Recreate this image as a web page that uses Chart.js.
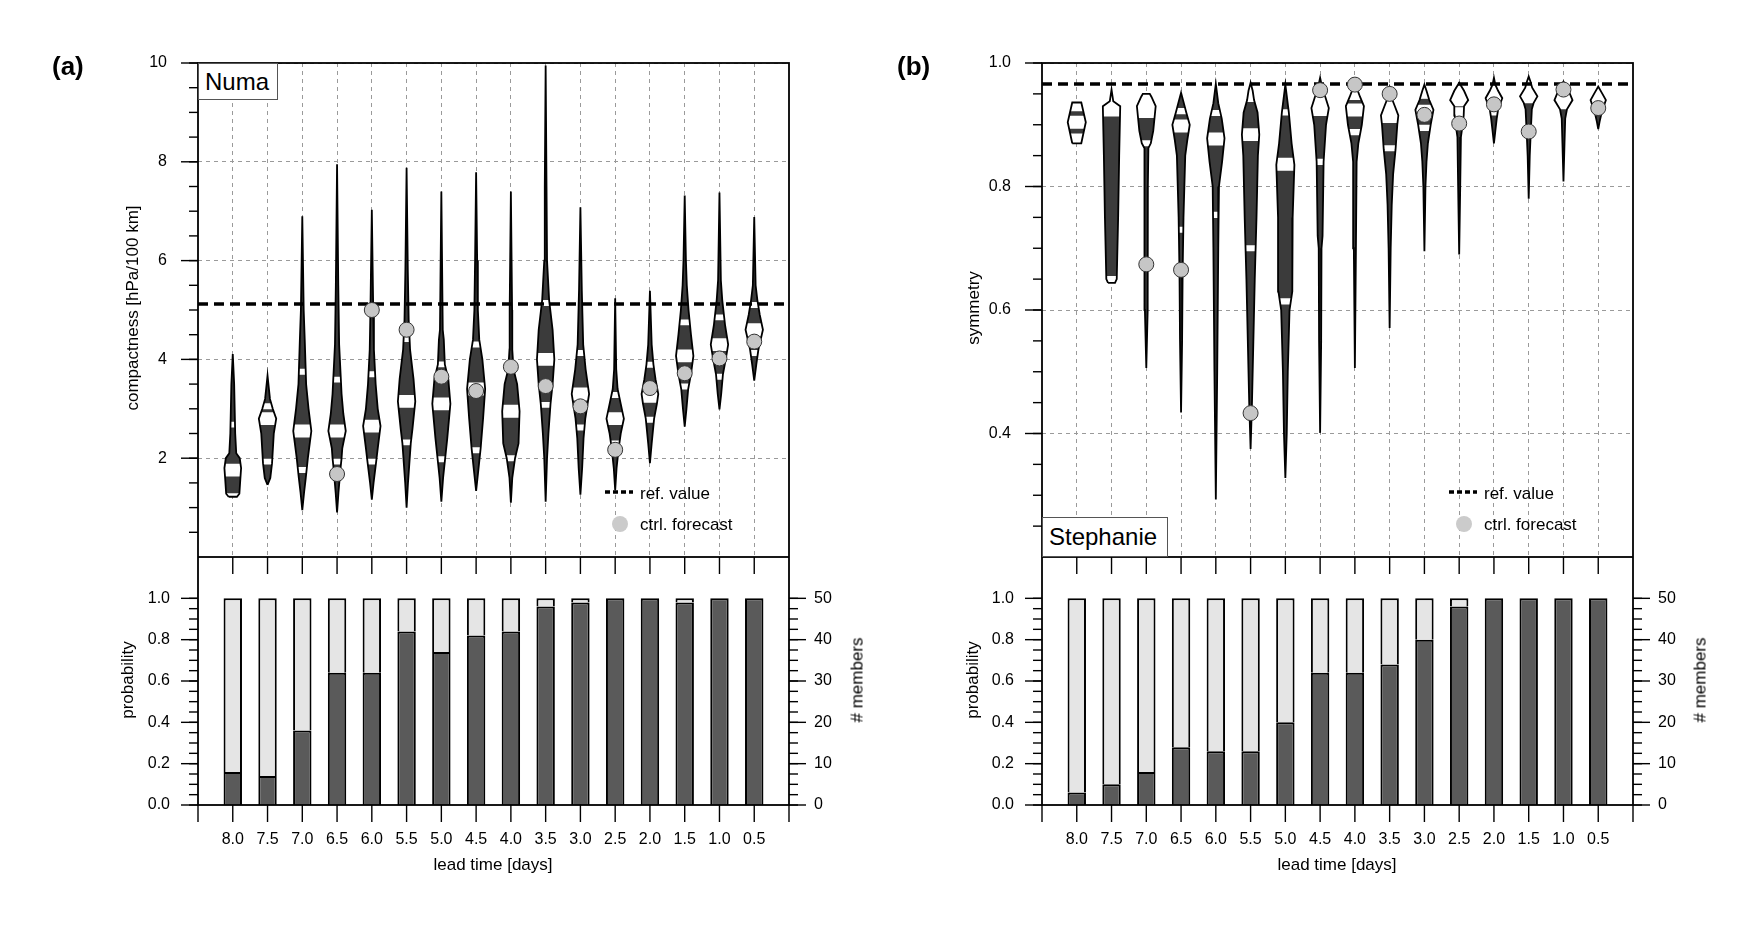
<!DOCTYPE html>
<html>
<head>
<meta charset="utf-8">
<script src="https://cdn.jsdelivr.net/npm/chart.js@4.4.1/dist/chart.umd.min.js"></script>
<style>
  body { margin: 0; width: 1757px; height: 928px; position: relative; overflow: hidden; background: #fff;
         font-family: "Liberation Sans", Arial, Helvetica, sans-serif; color: #000; }
  canvas { position: absolute; }
  .t { position: absolute; white-space: nowrap; line-height: 1; }
  .ctr { transform: translate(-50%, -50%); }
  .lft { transform: translateY(-50%); }
  .rot { transform: translate(-50%, -50%) rotate(-90deg); }
  .tag { position: absolute; background: #fff; border: 1px solid #555; box-sizing: border-box;
         font-size: 24px; display: flex; align-items: center; padding-left: 6px; }
  .dot { position: absolute; width: 16px; height: 16px; border-radius: 50%; background: #cbcbcb; }
</style>
</head>
<body>
<canvas id="numaTop" width="880" height="557" style="left:0;top:0"></canvas>
<canvas id="numaBar" width="880" height="371" style="left:0;top:557px"></canvas>
<canvas id="stephTop" width="880" height="557" style="left:844px;top:0"></canvas>
<canvas id="stephBar" width="880" height="371" style="left:844px;top:557px"></canvas>

<div class="t lft" style="left:52px;top:66px;font-size:26px;font-weight:bold">(a)</div>
<div class="t lft" style="left:897px;top:66px;font-size:26px;font-weight:bold">(b)</div>
<div class="tag" style="left:198px;top:63px;width:80px;height:37px">Numa</div>
<div class="tag" style="left:1042px;top:517px;width:126px;height:40px">Stephanie</div>

<div class="t rot" style="left:132px;top:308px;font-size:17px">compactness [hPa/100 km]</div>
<div class="t rot" style="left:973px;top:308px;font-size:17px">symmetry</div>
<div class="t rot" style="left:127px;top:680px;font-size:17px">probability</div>
<div class="t rot" style="left:972px;top:680px;font-size:17px">probability</div>
<div class="t rot" style="left:857px;top:680px;font-size:17px"># members</div>
<div class="t rot" style="left:1700px;top:680px;font-size:17px"># members</div>
<div class="t ctr" style="left:493px;top:864px;font-size:17px">lead time [days]</div>
<div class="t ctr" style="left:1337px;top:864px;font-size:17px">lead time [days]</div>

<svg style="position:absolute;left:605px;top:488px" width="30" height="8"><line x1="0" y1="4" x2="28" y2="4" stroke="#000" stroke-width="3.5" stroke-dasharray="5,3"/></svg>
<div class="t lft" style="left:640px;top:493px;font-size:17px">ref. value</div>
<div class="dot" style="left:612px;top:516px"></div>
<div class="t lft" style="left:640px;top:524px;font-size:17px">ctrl. forecast</div>
<svg style="position:absolute;left:1449px;top:488px" width="30" height="8"><line x1="0" y1="4" x2="28" y2="4" stroke="#000" stroke-width="3.5" stroke-dasharray="5,3"/></svg>
<div class="t lft" style="left:1484px;top:493px;font-size:17px">ref. value</div>
<div class="dot" style="left:1456px;top:516px"></div>
<div class="t lft" style="left:1484px;top:524px;font-size:17px">ctrl. forecast</div>

<script>
// ---------- data ----------
const leadTimes = ['8.0', '7.5', '7.0', '6.5', '6.0', '5.5', '5.0', '4.5', '4.0', '3.5', '3.0', '2.5', '2.0', '1.5', '1.0', '0.5'];

// (a) Numa, compactness [hPa/100 km]
const numaRef = 5.12;
const numaMedian = [1.76, 2.8, 2.55, 2.55, 2.65, 3.15, 3.1, 3.4, 2.95, 4.0, 3.3, 2.8, 3.25, 4.07, 4.3, 4.6];
const numaQ1 = [null, 1.93, 1.76, 1.93, 1.93, 2.32, 1.98, 2.16, 2.0, 3.08, 2.62, 2.3, 2.78, 3.45, 3.65, 4.13];
const numaQ3 = [2.68, 3.05, 3.75, 3.59, 3.7, 4.41, 3.9, 4.3, 3.9, 5.14, 4.13, 3.28, 3.89, 4.75, 4.85, 5.1];
const numaShade = [[1.29, 4.11], null, null, null, null, null, null, null, null, null, null, null, null, null, null, null];
const numaCtrl = [null, null, null, 1.68, 5.0, 4.6, 3.65, 3.36, 3.85, 3.46, 3.05, 2.17, 3.42, 3.72, 4.02, 4.36];
// relative density profiles, [value, density] from bottom to top
const numaDensity = [
  [[1.22, 0.48], [1.28, 0.76], [1.6, 0.88], [1.8, 0.96], [2.0, 0.8], [2.1, 0.4], [2.5, 0.28], [3.5, 0.16], [4.11, 0]],
  [[1.46, 0], [1.6, 0.32], [1.9, 0.52], [2.5, 0.72], [2.8, 1.0], [3.0, 0.6], [3.2, 0.28], [3.67, 0]],
  [[0.95, 0], [1.3, 0.2], [1.6, 0.4], [2.0, 0.64], [2.55, 1.04], [3.0, 0.72], [3.5, 0.44], [4.4, 0.28], [5.0, 0.16], [6.9, 0]],
  [[0.9, 0], [1.3, 0.16], [1.8, 0.4], [2.0, 0.52], [2.2, 0.6], [2.55, 1.0], [2.9, 0.72], [3.3, 0.52], [4.3, 0.24], [5.5, 0.14], [7.95, 0]],
  [[1.16, 0], [1.5, 0.2], [1.9, 0.48], [2.2, 0.68], [2.65, 1.0], [3.0, 0.68], [3.5, 0.44], [4.2, 0.24], [5.0, 0.16], [7.03, 0]],
  [[1.0, 0], [1.5, 0.16], [1.9, 0.32], [2.3, 0.48], [2.6, 0.68], [3.15, 1.0], [3.6, 0.8], [4.2, 0.4], [4.8, 0.24], [5.8, 0.14], [7.88, 0]],
  [[1.12, 0], [1.6, 0.2], [2.0, 0.44], [2.4, 0.68], [3.1, 1.04], [3.6, 0.8], [3.9, 0.4], [4.4, 0.28], [4.6, 0.16], [7.4, 0]],
  [[1.34, 0], [1.8, 0.28], [2.2, 0.52], [2.8, 0.8], [3.4, 1.04], [4.0, 0.72], [4.4, 0.36], [5.0, 0.2], [6.0, 0.12], [7.79, 0]],
  [[1.1, 0], [1.6, 0.16], [2.0, 0.48], [2.3, 0.88], [2.95, 1.0], [3.5, 0.72], [3.8, 0.3], [4.2, 0.16], [5.0, 0.14], [7.4, 0]],
  [[1.12, 0], [2.0, 0.16], [2.5, 0.32], [3.1, 0.56], [3.5, 0.8], [4.0, 1.0], [4.6, 0.8], [5.2, 0.4], [6.0, 0.16], [7.5, 0.1], [9.95, 0]],
  [[1.26, 0], [1.8, 0.2], [2.4, 0.36], [2.8, 0.56], [3.3, 1.0], [3.8, 0.6], [4.3, 0.32], [5.4, 0.16], [7.08, 0]],
  [[1.35, 0], [1.8, 0.16], [2.2, 0.4], [2.5, 0.64], [2.8, 1.0], [3.1, 0.64], [3.4, 0.28], [3.8, 0.12], [5.24, 0]],
  [[1.9, 0], [2.3, 0.2], [2.8, 0.48], [3.1, 0.8], [3.3, 0.96], [3.6, 0.64], [3.9, 0.4], [4.3, 0.2], [5.39, 0]],
  [[2.64, 0], [3.0, 0.2], [3.4, 0.4], [3.7, 0.72], [4.07, 1.0], [4.5, 0.72], [5.0, 0.44], [5.5, 0.24], [6.0, 0.14], [7.32, 0]],
  [[2.99, 0], [3.3, 0.2], [3.7, 0.4], [4.0, 0.72], [4.3, 1.0], [4.7, 0.64], [5.2, 0.32], [5.6, 0.16], [7.38, 0]],
  [[3.57, 0], [3.9, 0.24], [4.2, 0.48], [4.6, 1.0], [4.9, 0.64], [5.2, 0.36], [5.5, 0.16], [6.88, 0]]
];
const numaProb = [0.16, 0.14, 0.36, 0.64, 0.64, 0.84, 0.74, 0.82, 0.84, 0.96, 0.98, 1.0, 1.0, 0.98, 1.0, 1.0];

// (b) Stephanie, symmetry
const stephRef = 0.966;
const stephMedian = [0.904, 0.924, 0.925, 0.898, 0.877, 0.884, 0.836, 0.927, 0.924, 0.915, 0.922, 0.918, 0.935, 0.946, 0.942, 0.94];
const stephQ1 = [null, null, 0.87, 0.73, 0.754, 0.70, 0.614, 0.84, 0.888, 0.862, 0.895, null, null, null, null, null];
const stephQ3 = [null, 0.942, null, 0.922, 0.919, null, 0.92, null, null, null, 0.948, null, null, null, null, null];
const stephShade = [[0.886, 0.922], [0.655, 0.917], [0.506, 0.911], null, null, [0.375, 0.937], null, [0.401, 0.914],
                    [0.506, 0.94], [0.571, 0.903], [0.695, 0.942], [0.69, 0.93], [0.87, 0.915], [0.78, 0.935], [0.808, 0.925], [0.893, 0.925]];
const stephCtrl = [null, null, 0.674, 0.665, null, 0.433, null, 0.956, 0.965, 0.95, 0.916, 0.902, 0.933, 0.889, 0.957, 0.927];
const stephDensity = [
  [[0.870, 0.52], [0.904, 1.04], [0.936, 0.52]],
  [[0.644, 0.4], [0.65, 0.6], [0.75, 0.76], [0.85, 0.88], [0.93, 1.0], [0.938, 0.2], [0.957, 0]],
  [[0.506, 0], [0.6, 0.16], [0.8, 0.18], [0.862, 0.24], [0.87, 0.52], [0.89, 0.8], [0.93, 1.08], [0.945, 0.6], [0.95, 0.4]],
  [[0.434, 0], [0.55, 0.12], [0.66, 0.18], [0.75, 0.28], [0.85, 0.48], [0.875, 0.72], [0.9, 1.0], [0.92, 0.6], [0.935, 0.32], [0.952, 0]],
  [[0.293, 0], [0.5, 0.16], [0.7, 0.28], [0.8, 0.36], [0.84, 0.72], [0.878, 1.0], [0.91, 0.68], [0.935, 0.28], [0.966, 0]],
  [[0.375, 0], [0.45, 0.16], [0.55, 0.32], [0.65, 0.48], [0.75, 0.68], [0.85, 0.84], [0.884, 1.0], [0.92, 0.8], [0.94, 0.4], [0.955, 0.24], [0.968, 0]],
  [[0.328, 0], [0.4, 0.16], [0.5, 0.28], [0.6, 0.48], [0.63, 0.8], [0.75, 0.84], [0.835, 1.04], [0.87, 0.72], [0.92, 0.4], [0.965, 0]],
  [[0.401, 0], [0.55, 0.12], [0.7, 0.16], [0.72, 0.28], [0.84, 0.4], [0.9, 0.68], [0.927, 1.0], [0.945, 0.6], [0.955, 0.32], [0.976, 0]],
  [[0.506, 0], [0.7, 0.12], [0.84, 0.2], [0.87, 0.4], [0.9, 0.8], [0.93, 1.04], [0.945, 0.6], [0.96, 0.2], [0.97, 0]],
  [[0.571, 0], [0.7, 0.12], [0.77, 0.24], [0.82, 0.4], [0.86, 0.68], [0.9, 0.88], [0.915, 1.0], [0.93, 0.6], [0.94, 0.32], [0.96, 0]],
  [[0.695, 0], [0.8, 0.12], [0.84, 0.24], [0.87, 0.4], [0.9, 0.72], [0.924, 1.04], [0.94, 0.56], [0.955, 0.24], [0.965, 0]],
  [[0.69, 0], [0.8, 0.12], [0.88, 0.2], [0.9, 0.4], [0.915, 0.52], [0.93, 0.56], [0.94, 1.04], [0.955, 0.56], [0.968, 0]],
  [[0.87, 0], [0.89, 0.16], [0.91, 0.32], [0.925, 0.48], [0.943, 0.96], [0.955, 0.48], [0.965, 0.16], [0.976, 0]],
  [[0.78, 0], [0.85, 0.12], [0.89, 0.24], [0.925, 0.36], [0.935, 0.56], [0.946, 1.0], [0.96, 0.4], [0.97, 0.2], [0.978, 0]],
  [[0.808, 0], [0.87, 0.12], [0.91, 0.2], [0.925, 0.4], [0.94, 1.04], [0.955, 0.6], [0.97, 0]],
  [[0.893, 0], [0.905, 0.16], [0.92, 0.4], [0.94, 0.88], [0.952, 0.4], [0.962, 0]]
];
const stephProb = [0.06, 0.10, 0.16, 0.28, 0.26, 0.26, 0.40, 0.64, 0.64, 0.68, 0.80, 0.96, 1.0, 1.0, 1.0, 1.0];

// tick labels
const numaYTicks = [2, 4, 6, 8, 10];
const stephYTicks = [0.4, 0.6, 0.8, 1.0];
const probTicks = [0, 0.2, 0.4, 0.6, 0.8, 1.0];
const memberTicks = [0, 10, 20, 30, 40, 50];

// ---------- style ----------
const FONT = '"Liberation Sans", Arial, Helvetica, sans-serif';
const INK = '#000';
const GRID = '#9a9a9a';
const VIOLIN_FILL = '#3b3b3b';
const CTRL_FILL = '#c6c6c6';
const BAR_YES = '#5a5a5a';
const BAR_NO = '#e5e5e5';
const HALF = 0.25;          // widest violin half-width, category units
const X_MIN = -1, X_MAX = 16;
const AXIS_W = 198, RIGHT_W = 91, BAR_AXIS_H = 123;

// ticks, minor ticks and frame drawn on the library's scales
const marks = {
  id: 'marks',
  afterDraw(chart, args, opts) {
    const {ctx, chartArea: a} = chart;
    ctx.save();
    ctx.strokeStyle = INK;
    ctx.lineWidth = 1.4;
    (opts.items || []).forEach(it => {
      const s = chart.scales[it.scale];
      it.values.forEach(v => {
        const p = s.getPixelForValue(v);
        ctx.beginPath();
        if (it.side === 'left') { ctx.moveTo(a.left, p); ctx.lineTo(a.left - it.len, p); }
        else if (it.side === 'right') { ctx.moveTo(a.right, p); ctx.lineTo(a.right + it.len, p); }
        else if (it.side === 'top') { ctx.moveTo(p, a.top); ctx.lineTo(p, a.top + it.len); }
        else { ctx.moveTo(p, a.bottom); ctx.lineTo(p, a.bottom + it.len); }
        ctx.stroke();
      });
    });
    ctx.lineWidth = 1.8;
    ctx.strokeRect(a.left, a.top, a.right - a.left, a.bottom - a.top);
    ctx.restore();
  }
};
Chart.register(marks);

// fixed axis boxes, no label overflow padding
const fixW = w => s => { s.width = w; s.paddingTop = 0; s.paddingBottom = 0; };
const fixH = h => s => { s.height = h; s.paddingLeft = 0; s.paddingRight = 0; };

function steps(from, to, step) {
  const out = [];
  for (let v = from; v <= to + 1e-9; v += step) out.push(+v.toFixed(4));
  return out;
}

function widthAt(prof, y) {
  for (let k = 1; k < prof.length; k++) {
    const [y0, d0] = prof[k - 1], [y1, d1] = prof[k];
    if (y <= y1) return y1 === y0 ? d1 : d0 + (d1 - d0) * (y - y0) / (y1 - y0);
  }
  return prof[prof.length - 1][1];
}
function slice(prof, lo, hi) {
  lo = Math.max(lo, prof[0][0]);
  hi = Math.min(hi, prof[prof.length - 1][0]);
  if (hi <= lo) return null;
  const ys = [lo].concat(prof.map(p => p[0]).filter(y => y > lo && y < hi), [hi]);
  return ys.map(y => [y, widthAt(prof, y)]);
}
function shape(center, part) {
  const left = part.map(([y, d]) => ({x: center - d * HALF, y}));
  const right = part.slice().reverse().map(([y, d]) => ({x: center + d * HALF, y}));
  const pts = left.concat(right);
  pts.push(pts[0]);
  return pts;
}

function violinSets(density, median, q1, q3, shade, ctrl, ref, bandH, markH) {
  const sets = [];
  const add = ds => {
    sets.push(Object.assign({pointRadius: 0, pointHoverRadius: 0, borderWidth: 0, borderColor: 'rgba(0,0,0,0)',
                             fill: false, tension: 0, order: -sets.length}, ds));
  };
  density.forEach((prof, i) => {
    const whole = slice(prof, -Infinity, Infinity);
    add({data: shape(i, whole), fill: 'shape', backgroundColor: '#fff'});
    const sh = shade[i] || [-Infinity, Infinity];
    const dark = slice(prof, sh[0], sh[1]);
    if (dark) add({data: shape(i, dark), fill: 'shape', backgroundColor: VIOLIN_FILL});
    [[median[i], bandH], [q1[i], markH], [q3[i], markH]].forEach(([v, h]) => {
      if (v == null) return;
      const band = slice(prof, v - h, v + h);
      if (band) add({data: shape(i, band), fill: 'shape', backgroundColor: '#fff'});
    });
    add({data: shape(i, whole), borderColor: INK, borderWidth: 1.8});
  });
  add({data: [{x: X_MIN, y: ref}, {x: X_MAX, y: ref}], borderColor: INK, borderWidth: 3.5, borderDash: [10, 6]});
  add({data: ctrl.map((v, i) => v == null ? null : {x: i, y: v}).filter(Boolean), showLine: false,
       pointRadius: 7.5, pointHoverRadius: 7.5, pointBackgroundColor: CTRL_FILL, pointBorderColor: '#333', pointBorderWidth: 1});
  return sets;
}

function violinChart(id, sets, yMin, yMax, yTicks, fmt, minors) {
  new Chart(document.getElementById(id), {
    type: 'line',
    data: {datasets: sets},
    options: {
      responsive: false, animation: false, events: [],
      layout: {autoPadding: false, padding: {left: 0, top: 63, right: RIGHT_W, bottom: 0}},
      plugins: {
        legend: {display: false}, tooltip: {enabled: false},
        marks: {items: [
          {scale: 'y', side: 'left', values: minors, len: 9},
          {scale: 'y', side: 'left', values: yTicks, len: 17}
        ]}
      },
      scales: {
        x: {
          type: 'linear', min: X_MIN, max: X_MAX, z: 1,
          afterBuildTicks: s => { s.ticks = leadTimes.map((_, i) => ({value: i})); },
          ticks: {display: false},
          grid: {color: GRID, lineWidth: 1, drawTicks: false},
          border: {display: false, dash: [4, 4]},
          afterFit: fixH(0)
        },
        y: {
          type: 'linear', position: 'left', min: yMin, max: yMax, z: 1,
          afterBuildTicks: s => { s.ticks = yTicks.map(v => ({value: v})); },
          ticks: {padding: 31, color: INK, font: {family: FONT, size: 16}, callback: fmt},
          grid: {color: GRID, lineWidth: 1, drawTicks: false},
          border: {display: false, dash: [4, 4]},
          afterFit: fixW(AXIS_W)
        }
      }
    }
  });
}

function barChart(id, prob) {
  // each segment skips its base edge, so the boundary between the two stays a single line
  const common = {borderColor: INK, borderWidth: 2, borderSkipped: 'start', barPercentage: 0.53, categoryPercentage: 1};
  new Chart(document.getElementById(id), {
    type: 'bar',
    data: {datasets: [
      Object.assign({data: prob.map((p, i) => ({x: i, y: p})), backgroundColor: BAR_YES}, common),
      Object.assign({data: prob.map((p, i) => ({x: i, y: +(1 - p).toFixed(3)})), backgroundColor: BAR_NO}, common)
    ]},
    options: {
      responsive: false, animation: false, events: [],
      layout: {autoPadding: false, padding: 0},
      plugins: {
        legend: {display: false}, tooltip: {enabled: false},
        marks: {items: [
          {scale: 'y', side: 'left', values: steps(0, 1, 0.05), len: 9},
          {scale: 'y', side: 'left', values: probTicks, len: 17},
          {scale: 'y2', side: 'right', values: steps(0, 50, 2.5), len: 9},
          {scale: 'y2', side: 'right', values: memberTicks, len: 17},
          {scale: 'x', side: 'top', values: leadTimes.map((_, i) => i), len: 17},
          {scale: 'x', side: 'bottom', values: steps(X_MIN, X_MAX, 1), len: 17}
        ]}
      },
      scales: {
        x: {
          type: 'linear', min: X_MIN, max: X_MAX, offset: false, stacked: true,
          afterBuildTicks: s => { s.ticks = leadTimes.map((_, i) => ({value: i})); },
          ticks: {padding: 25, color: INK, font: {family: FONT, size: 16}, autoSkip: false, maxRotation: 0,
                  callback: v => leadTimes[v]},
          grid: {display: false, drawTicks: false},
          border: {display: false},
          afterFit: fixH(BAR_AXIS_H)
        },
        y: {
          type: 'linear', position: 'left', min: 0, max: 1.2, stacked: true,
          afterBuildTicks: s => { s.ticks = probTicks.map(v => ({value: v})); },
          ticks: {padding: 28, color: INK, font: {family: FONT, size: 16}, callback: v => v.toFixed(1)},
          grid: {display: false, drawTicks: false},
          border: {display: false},
          afterFit: fixW(AXIS_W)
        },
        y2: {
          type: 'linear', position: 'right', min: 0, max: 60,
          afterBuildTicks: s => { s.ticks = memberTicks.map(v => ({value: v})); },
          ticks: {padding: 25, color: INK, font: {family: FONT, size: 16}, callback: v => String(v)},
          grid: {display: false, drawTicks: false},
          border: {display: false},
          afterFit: fixW(RIGHT_W)
        }
      }
    }
  });
}

violinChart('numaTop',
  violinSets(numaDensity, numaMedian, numaQ1, numaQ3, numaShade, numaCtrl, numaRef, 0.13, 0.06),
  0, 10, numaYTicks, v => String(v), steps(0.5, 10, 0.5));
violinChart('stephTop',
  violinSets(stephDensity, stephMedian, stephQ1, stephQ3, stephShade, stephCtrl, stephRef, 0.0105, 0.005),
  0.2, 1.0, stephYTicks, v => v.toFixed(1), steps(0.25, 1.0, 0.05));
barChart('numaBar', numaProb);
barChart('stephBar', stephProb);
</script>
</body>
</html>
